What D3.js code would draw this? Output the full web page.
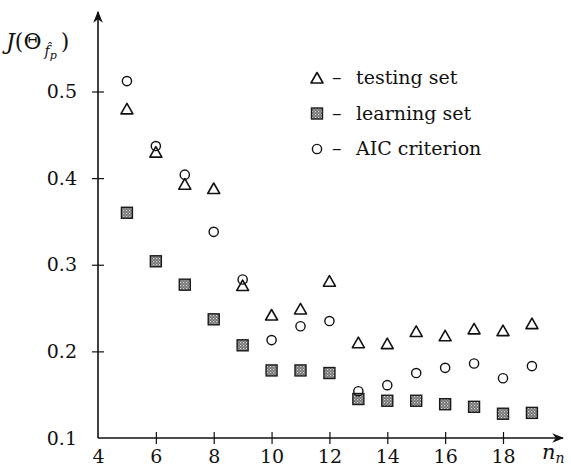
<!DOCTYPE html>
<html>
<head>
<meta charset="utf-8">
<script src="https://cdn.jsdelivr.net/npm/d3@7"></script>
<style>
  html, body { margin: 0; padding: 0; background: #fff; }
  svg { display: block; }
  svg text { font-family: "DejaVu Serif", serif; fill: #111; }
</style>
</head>
<body>
<svg id="chart" width="571" height="470"></svg>
<script>
// Number of neurons n_n on the horizontal axis
const nn = [5, 6, 7, 8, 9, 10, 11, 12, 13, 14, 15, 16, 17, 18, 19];
// Criterion J for each set
const testingSet  = [0.480, 0.430, 0.393, 0.388, 0.276, 0.242, 0.249, 0.281, 0.210, 0.209, 0.223, 0.218, 0.226, 0.224, 0.232];
const learningSet = [0.360, 0.304, 0.277, 0.237, 0.207, 0.178, 0.178, 0.175, 0.145, 0.143, 0.143, 0.139, 0.136, 0.128, 0.129];
const aicCriterion = [0.512, 0.437, 0.404, 0.338, 0.283, 0.213, 0.229, 0.235, 0.154, 0.161, 0.175, 0.181, 0.186, 0.169, 0.183];
// Axis ticks
const xTicks = [4, 6, 8, 10, 12, 14, 16, 18];
const yTicks = [0.1, 0.2, 0.3, 0.4, 0.5];
const legendLabels = ["testing set", "learning set", "AIC criterion"];

const svg = d3.select("#chart");
const x = d3.scaleLinear().domain([4, 18]).range([98, 503]);
const y = d3.scaleLinear().domain([0.1, 0.5]).range([438, 91.5]);

// Stippled fill for the learning-set squares
const defs = svg.append("defs");
const pat = defs.append("pattern").attr("id", "stipple")
  .attr("width", 3).attr("height", 3).attr("patternUnits", "userSpaceOnUse");
pat.append("rect").attr("width", 3).attr("height", 3).attr("fill", "#6f6f6f");
pat.append("rect").attr("x", 0).attr("y", 0).attr("width", 1.2).attr("height", 1.2).attr("fill", "#dcdcdc");
pat.append("rect").attr("x", 1.5).attr("y", 1.5).attr("width", 1.2).attr("height", 1.2).attr("fill", "#bdbdbd");

defs.append("marker").attr("id", "arrow")
  .attr("viewBox", "0 0 10 10").attr("refX", 9).attr("refY", 5)
  .attr("markerWidth", 12).attr("markerHeight", 12).attr("markerUnits", "userSpaceOnUse")
  .attr("orient", "auto")
  .append("path").attr("d", "M0,1 L10,5 L0,9 L3,5 Z").attr("fill", "#111");

// Axes lines with arrowheads
svg.append("line").attr("x1", x(4)).attr("y1", y(0.1)).attr("x2", 563).attr("y2", y(0.1))
  .attr("stroke", "#111").attr("stroke-width", 1.6).attr("marker-end", "url(#arrow)");
svg.append("line").attr("x1", x(4)).attr("y1", y(0.1)).attr("x2", x(4)).attr("y2", 12)
  .attr("stroke", "#111").attr("stroke-width", 1.6).attr("marker-end", "url(#arrow)");

// Bottom axis: ticks crossing the line
const gx = svg.append("g").attr("transform", `translate(0,${y(0.1)})`)
  .call(d3.axisBottom(x).tickValues(xTicks).tickFormat(d3.format("d")).tickSize(6).tickPadding(6));
gx.select(".domain").remove();
gx.selectAll(".tick line").attr("y1", -6).attr("y2", 6).attr("stroke", "#111").attr("stroke-width", 1.2)
  .filter(d => d === 4).remove();
gx.selectAll(".tick text").attr("font-size", 19).style("font-family", "'DejaVu Serif', serif").attr("fill", "#111");

// Left axis
const gy = svg.append("g").attr("transform", `translate(${x(4)},0)`)
  .call(d3.axisLeft(y).tickValues(yTicks).tickFormat(d3.format(".1f")).tickSize(6).tickPadding(15));
gy.select(".domain").remove();
gy.selectAll(".tick line").attr("x1", 6).attr("x2", -6).attr("stroke", "#111").attr("stroke-width", 1.2)
  .filter(d => d === 0.1).remove();
gy.selectAll(".tick text").attr("font-size", 19).style("font-family", "'DejaVu Serif', serif").attr("fill", "#111");

// Axis titles
const yl = svg.append("text").attr("x", 6).attr("y", 49).attr("font-size", 22);
yl.append("tspan").attr("font-style", "italic").text("J");
yl.append("tspan").text("(Θ");
yl.append("tspan").attr("font-style", "italic").attr("font-size", 14).attr("dy", 7).attr("dx", 3).text("f\u0302");
yl.append("tspan").attr("font-style", "italic").attr("font-size", 11).attr("dy", 3).text("p");
yl.append("tspan").attr("dy", -10).attr("dx", 4).text(")");

const xl = svg.append("text").attr("x", 542).attr("y", 459).attr("font-size", 21).attr("font-style", "italic");
xl.append("tspan").text("n");
xl.append("tspan").attr("font-size", 14).attr("dy", 4).text("n");

// Marker shapes
const triPath = (cx, cy) => `M${cx - 6},${cy + 5} L${cx + 6},${cy + 5} L${cx},${cy - 5.5} Z`;
function triangle(g, cx, cy) {
  g.append("path").attr("d", triPath(cx, cy)).attr("fill", "none").attr("stroke", "#111").attr("stroke-width", 1.6)
    .attr("stroke-linejoin", "round");
}
function square(g, cx, cy) {
  g.append("rect").attr("x", cx - 5.5).attr("y", cy - 5.5).attr("width", 11).attr("height", 11)
    .attr("fill", "url(#stipple)").attr("stroke", "#1a1a1a").attr("stroke-width", 1.4);
}
function circle(g, cx, cy) {
  g.append("circle").attr("cx", cx).attr("cy", cy).attr("r", 4.6)
    .attr("fill", "none").attr("stroke", "#111").attr("stroke-width", 1.4);
}

const marks = svg.append("g");
nn.forEach((n, i) => square(marks, x(n), y(learningSet[i])));
nn.forEach((n, i) => circle(marks, x(n), y(aicCriterion[i])));
nn.forEach((n, i) => triangle(marks, x(n), y(testingSet[i])));

// Legend: marker, dash, label
const legend = svg.append("g");
const drawers = [triangle, square, circle];
legendLabels.forEach((lab, i) => {
  const ly = 78 + i * 35.5;
  drawers[i](legend, 317, ly);
  const t = legend.append("text").attr("y", ly + 6).attr("font-size", 19);
  t.append("tspan").attr("x", 332).text("–");
  t.append("tspan").attr("x", 356).text(lab);
});
</script>
</body>
</html>
